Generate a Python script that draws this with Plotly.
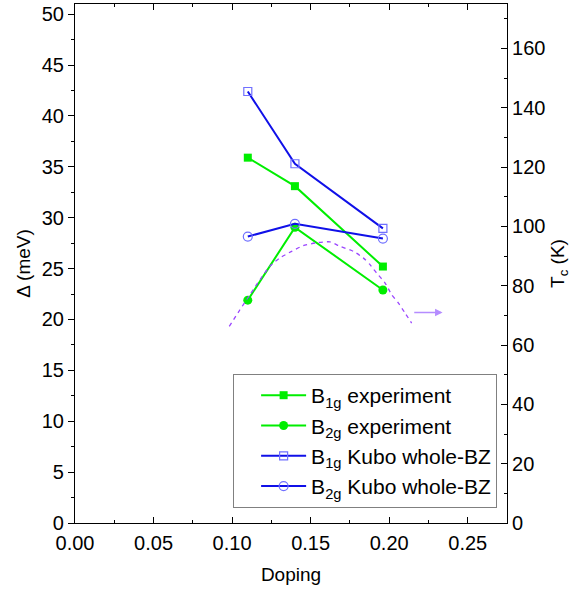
import plotly.graph_objects as go

# Doping levels of the three samples
doping = [0.11, 0.14, 0.196]

# Gap magnitudes (meV)
b1g_exp = [35.9, 33.1, 25.2]
b2g_exp = [21.9, 29.05, 22.9]
b1g_kubo = [42.4, 35.3, 28.95]
b2g_kubo = [28.15, 29.4, 27.95]

# Superconducting dome Tc(p) (K)
dome_p = [0.0982, 0.105, 0.1114, 0.1178, 0.1241, 0.1305, 0.1379, 0.1453, 0.1539,
          0.1623, 0.1687, 0.1772, 0.1835, 0.1878, 0.192, 0.1973, 0.2016, 0.2058,
          0.2101, 0.2143]
dome_tc = [66.3, 71.9, 77.0, 82.1, 86.6, 89.4, 91.6, 93.5, 94.5,
           94.8, 93.3, 91.6, 89.4, 87.1, 84.3, 81.0, 77.0, 74.2,
           70.8, 67.4]

# Arrow pointing to the right-hand axis
arrow_p = [0.215, 0.234]
arrow_tc = 71.0

GREEN = "#00ee00"
BLUE = "#1010e8"
BLUE_MK = "#7070ff"
PURPLE = "#9b45ff"

fig = go.Figure()

fig.add_trace(go.Scatter(
    x=dome_p, y=dome_tc, yaxis="y2", mode="lines", showlegend=False,
    line=dict(color=PURPLE, width=1.3, dash="4px,4px", shape="spline", smoothing=0.6),
))

fig.add_trace(go.Scatter(
    x=doping, y=b1g_exp, mode="lines+markers", name="B<sub>1g</sub> experiment",
    legendgroup="a",
    line=dict(color=GREEN, width=2),
    marker=dict(symbol="square", size=8, color=GREEN),
))
fig.add_trace(go.Scatter(
    x=doping, y=b2g_exp, mode="lines+markers", name="B<sub>2g</sub> experiment",
    legendgroup="b",
    line=dict(color=GREEN, width=2),
    marker=dict(symbol="circle", size=9, color=GREEN),
))
fig.add_trace(go.Scatter(
    x=doping, y=b1g_kubo, mode="lines+markers", name="B<sub>1g</sub> Kubo whole-BZ",
    legendgroup="c",
    line=dict(color=BLUE, width=2),
    marker=dict(symbol="square-open", size=8, color=BLUE_MK, line=dict(width=1.2, color=BLUE_MK)),
))
fig.add_trace(go.Scatter(
    x=doping, y=b2g_kubo, mode="lines+markers", name="B<sub>2g</sub> Kubo whole-BZ",
    legendgroup="d",
    line=dict(color=BLUE, width=2),
    marker=dict(symbol="circle-open", size=9, color=BLUE_MK, line=dict(width=1.2, color=BLUE_MK)),
))

fig.add_annotation(
    x=arrow_p[1], y=arrow_tc, ax=arrow_p[0], ay=arrow_tc,
    xref="x", yref="y2", axref="x", ayref="y2",
    text="", showarrow=True, arrowhead=2, arrowsize=1, arrowwidth=1.5,
    arrowcolor="#b58cff",
)

FONT = "Liberation Sans, Arial, sans-serif"
tickfont = dict(family=FONT, size=20, color="black")
titlefont = dict(family=FONT, size=19, color="black")

fig.update_layout(
    width=571, height=592,
    margin=dict(l=75, r=64, t=4, b=69),
    paper_bgcolor="white", plot_bgcolor="white",
    font=dict(family=FONT, size=19, color="black"),
    xaxis=dict(
        range=[0, 0.275], tickvals=[0, 0.05, 0.10, 0.15, 0.20, 0.25],
        ticktext=["0.00", "0.05", "0.10", "0.15", "0.20", "0.25"],
        ticks="inside", ticklen=6, tickwidth=1, tickcolor="black",
        minor=dict(dtick=0.025, tick0=0, ticks="inside", ticklen=3, tickcolor="black"),
        showline=True, linecolor="black", linewidth=1.2, mirror="ticks",
        showgrid=False, zeroline=False, tickfont=tickfont, ticklabelstandoff=2,
        title=dict(text="Doping", font=titlefont, standoff=14),
    ),
    yaxis=dict(
        range=[0, 51], dtick=5, tick0=0,
        ticks="outside", ticklen=6, tickwidth=1, tickcolor="black",
        minor=dict(dtick=2.5, tick0=0, ticks="outside", ticklen=3, tickcolor="black"),
        showline=True, linecolor="black", linewidth=1.2,
        showgrid=False, zeroline=False, tickfont=tickfont,
        title=dict(text="Δ (meV)", font=titlefont, standoff=6),
    ),
    yaxis2=dict(
        range=[0, 175], dtick=20, tick0=0, overlaying="y", side="right",
        ticks="inside", ticklen=6, tickwidth=1, tickcolor="black",
        minor=dict(dtick=10, tick0=0, ticks="inside", ticklen=3, tickcolor="black"),
        showline=True, linecolor="black", linewidth=1.2,
        showgrid=False, zeroline=False, tickfont=tickfont,
        title=dict(text="T<sub>c</sub> (K)", font=titlefont, standoff=6),
    ),
    legend=dict(
        x=0.366, y=0.287, xanchor="left", yanchor="top",
        bgcolor="white", bordercolor="#808080", borderwidth=1,
        font=dict(family=FONT, size=21, color="black"),
        tracegroupgap=10, indentation=22, itemwidth=45,
        traceorder="normal",
    ),
)

fig.write_html("out.html")
